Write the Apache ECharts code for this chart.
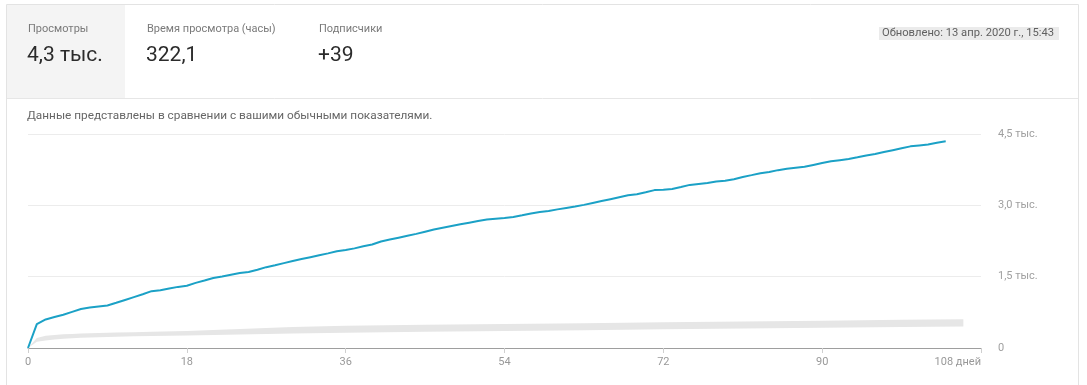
<!DOCTYPE html>
<html>
<head>
<meta charset="utf-8">
<script src="https://cdn.jsdelivr.net/npm/echarts@6/dist/echarts.min.js"></script>
<style>
html,body{margin:0;padding:0;background:#fff;}
#c{width:1087px;height:385px;}
</style>
</head>
<body>
<div id="c"></div>
<script>
// ---- data ----
const viewDays = [0,1,2,3,4,5,6,7,8,9,10,11,12,13,14,15,16,17,18,19,20,21,22,23,24,25,26,27,28,29,30,31,32,33,34,35,36,37,38,39,40,41,42,43,44,45,46,47,48,49,50,51,52,53,54,55,56,57,58,59,60,61,62,63,64,65,66,67,68,69,70,71,72,73,74,75,76,77,78,79,80,81,82,83,84,85,86,87,88,89,90,91,92,93,94,95,96,97,98,99,100,101,102,103,104];
const viewValues = [0,500,600,650,700,760,820,850,875,895,950,1010,1070,1130,1195,1215,1250,1285,1310,1370,1420,1472,1505,1540,1575,1600,1645,1700,1740,1785,1830,1870,1910,1950,1990,2035,2060,2095,2140,2175,2240,2280,2320,2360,2400,2445,2490,2530,2565,2600,2635,2670,2700,2720,2735,2755,2790,2830,2860,2880,2915,2945,2975,3010,3050,3090,3130,3170,3210,3235,3275,3320,3330,3345,3385,3430,3450,3470,3500,3515,3550,3595,3635,3676,3700,3740,3770,3790,3810,3850,3890,3925,3950,3975,4010,4050,4080,4120,4160,4200,4240,4260,4280,4315,4346];
const bandDays  = [0,1,2,3,4,5,6,8,10,12,14,18,24,30,36,45,54,63,72,81,90,99,106];
const bandLower = [0,130,160,180,195,205,215,228,238,245,250,262,285,305,322,340,355,372,392,408,424,440,451];
const bandUpper = [0,210,255,275,287,295,303,315,325,333,340,360,400,440,470,490,505,522,540,558,575,592,606];
const xTicks = [0,18,36,54,72,90,108];
const yTickLabels = {0:'0',1500:'1,5 тыс.',3000:'3,0 тыс.',4500:'4,5 тыс.'};
const metricLabels = ['Просмотры','Время просмотра (часы)','Подписчики'];
const metricValues = ['4,3 тыс.','322,1','+39'];
const updatedText = 'Обновлено: 13 апр. 2020 г., 15:43';
const noteText = 'Данные представлены в сравнении с вашими обычными показателями.';

const FONT = 'Roboto, "Noto Sans", sans-serif';
const chart = echarts.init(document.getElementById('c'), null, {renderer:'canvas'});

const metricX = [28,147,319];
const graphics = [
  {type:'rect', shape:{x:6.5,y:4.5,width:1072,height:400}, style:{fill:'#fff',stroke:'#e3e3e3',lineWidth:1}, z:-10, silent:true},
  {type:'rect', shape:{x:7,y:5,width:118,height:93}, style:{fill:'#f4f4f4'}, z:-9, silent:true},
  {type:'line', shape:{x1:7,y1:98.5,x2:1078,y2:98.5}, style:{stroke:'#e6e6e6',lineWidth:1}, z:-9, silent:true},
  {type:'rect', shape:{x:879,y:27,width:180,height:13}, style:{fill:'#ebebeb'}, z:-9, silent:true},
  {type:'text', x:882, y:33.5, style:{text:updatedText, font:'11.2px '+FONT, fill:'#606060', textVerticalAlign:'middle'}},
  {type:'text', x:27, y:116, style:{text:noteText, font:'11.8px '+FONT, fill:'#666', textVerticalAlign:'middle'}}
];
metricLabels.forEach((t,i)=>{
  graphics.push({type:'text', x:metricX[i], y:29.5, style:{text:t, font:'11px '+FONT, fill:'#7a7a7a', textVerticalAlign:'middle'}});
  graphics.push({type:'text', x:metricX[i]-1, y:56, style:{text:metricValues[i], font:'21px '+FONT, fill:'#2b2b2b', textVerticalAlign:'middle'}});
});

chart.setOption({
  animation:false,
  backgroundColor:'#fff',
  textStyle:{fontFamily:FONT},
  graphic:graphics,
  grid:{left:28, right:106, top:134, bottom:37, containLabel:false},
  xAxis:{
    type:'value', min:0, max:108, interval:18,
    axisLine:{show:true, lineStyle:{color:'#9e9e9e', width:1}},
    axisTick:{show:true, length:5, lineStyle:{color:'#cfcfcf'}},
    axisLabel:{color:'#999', fontSize:11, fontFamily:FONT, margin:9, alignMaxLabel:'right',
      formatter:(v)=> v===108 ? '108 дней' : (xTicks.indexOf(v)>=0 ? String(v) : '')},
    splitLine:{show:false}
  },
  yAxis:{
    type:'value', position:'right', min:0, max:4500, interval:1500,
    axisLine:{show:false}, axisTick:{show:false},
    axisLabel:{color:'#a0a0a0', fontSize:11, fontFamily:FONT, margin:17, formatter:(v)=>yTickLabels[v]!==undefined?yTickLabels[v]:''},
    splitLine:{show:true, lineStyle:{color:'#ececec', width:1}}
  },
  series:[
    {type:'custom', name:'band', silent:true, z:1, clip:true,
      data:[[0,0]],
      renderItem:(params, api)=>{
        const pts=[];
        for(let i=0;i<bandDays.length;i++) pts.push(api.coord([bandDays[i], bandUpper[i]]));
        for(let i=bandDays.length-1;i>=0;i--) pts.push(api.coord([bandDays[i], bandLower[i]]));
        return {type:'polygon', shape:{points:pts}, style:{fill:'#e6e6e6'}};
      }},
    {type:'line', name:'Просмотры', data:viewDays.map((d,i)=>[d,viewValues[i]]), symbol:'none',
      lineStyle:{color:'#1ba1c6', width:2}, itemStyle:{color:'#1ba1c6'}, z:3}
  ]
});
</script>
</body>
</html>
